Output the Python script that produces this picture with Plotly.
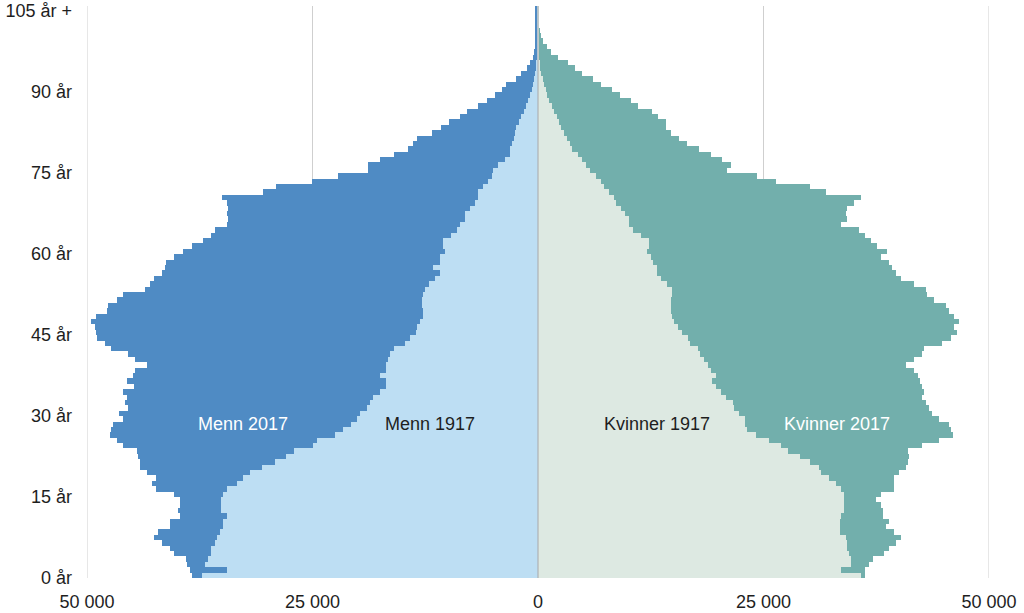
import plotly.graph_objects as go

ages = list(range(106))

men_2017 = [
    38400, 38600, 38900, 39000, 40400, 40800, 41700, 42600, 42100, 40800,
    40800, 39700, 39900, 39700, 39700, 40300, 42300, 42800, 42300, 43400,
    44100, 44100, 44300, 44500, 46000, 46700, 47500, 47300, 47100, 46000,
    46400, 45400, 45800, 45600, 46000, 44800, 45600, 44900, 44700, 43400,
    44700, 45400, 47300, 48000, 48900, 49000, 49100, 49600, 49000, 47800,
    47700, 46700, 46000, 43600, 43000, 42600, 41700, 41300, 41200, 40400,
    39400, 38400, 37100, 36300, 35800, 34500, 34400, 34500, 34400, 34500,
    35000, 30500, 29000, 25100, 22200, 18900, 18800, 17500, 16000, 14400,
    13900, 13400, 11800, 10700, 9900, 8700, 7900, 6600, 5600, 4800,
    4000, 3500, 2400, 1900, 1250, 900, 600, 400, 340, 330,
    320, 320, 310, 310, 300, 300,
]

men_1917 = [
    37300, 34500, 36900, 36600, 36200, 36200, 35800, 35600, 35300, 34900,
    34900, 34500, 35200, 35200, 35100, 34900, 34500, 33400, 32700, 31900,
    30600, 29200, 27900, 27000, 24900, 24500, 22500, 21600, 20700, 20100,
    19700, 19000, 18600, 18300, 17500, 16900, 16900, 17500, 16800, 16800,
    16600, 16400, 16000, 14800, 14200, 13500, 13400, 13100, 12700, 12700,
    12900, 12900, 12700, 12500, 12100, 11400, 10900, 11600, 10900, 10900,
    10300, 10500, 10500, 9600, 9000, 8700, 8100, 8100, 7500, 7000,
    6600, 6600, 6100, 5500, 5100, 5000, 4400, 3700, 3100, 3100,
    2900, 2700, 2500, 2400, 2100, 1900, 1600, 1300, 1100, 900,
    700, 550, 400, 300, 200, 150, 100, 70, 50, 30,
    20, 10, 5, 3, 2, 1,
]

women_2017 = [
    36300, 36300, 36700, 37100, 38400, 38900, 39700, 40200, 39500, 38600,
    38900, 38200, 38200, 38000, 37500, 38000, 39500, 39500, 39500, 40000,
    40800, 41000, 41100, 41000, 42600, 44500, 46000, 45800, 45600, 44500,
    43700, 43400, 43000, 42600, 42800, 42600, 42400, 42100, 41700, 40800,
    41700, 42600, 42800, 44800, 45800, 46500, 46100, 46700, 46100, 45600,
    45200, 43900, 43100, 43000, 41700, 40200, 39700, 39300, 38900, 38000,
    38700, 37600, 36900, 36300, 35600, 33600, 34300, 34100, 34300, 35000,
    35800, 31900, 30100, 26400, 24300, 21000, 21400, 20400, 19200, 17900,
    16500, 15600, 14700, 14200, 14200, 13300, 12600, 11100, 10300, 9100,
    8200, 7000, 6100, 4900, 4100, 3300, 2200, 1400, 960, 550,
    300, 120, 70, 40, 20, 15,
]

women_1917 = [
    35800, 33600, 34700, 34700, 34500, 34300, 34300, 34100, 33500, 33500,
    33500, 33600, 33900, 33900, 33900, 33900, 33600, 33000, 32300, 31400,
    31200, 30200, 29100, 27700, 26900, 25600, 24200, 23200, 23000, 22900,
    22300, 21700, 21600, 20800, 20300, 19700, 19300, 19700, 19200, 18800,
    18400, 18000, 17700, 16900, 16600, 16000, 15500, 15100, 14800, 14700,
    14700, 14700, 14900, 14900, 14300, 13600, 13200, 13200, 12700, 12500,
    12100, 12300, 12300, 11400, 10500, 10100, 10100, 9700, 9200, 8600,
    8400, 7900, 7300, 7000, 6400, 5800, 5300, 4900, 4400, 3800,
    3500, 3200, 2900, 2600, 2300, 2100, 1800, 1500, 1200, 1000,
    850, 650, 500, 350, 250, 170, 110, 70, 40, 25,
    15, 8, 5, 3, 2, 1,
]

y_tick_ages = [0, 15, 30, 45, 60, 75, 90, 105]
y_tick_text = ["0 år", "15 år", "30 år", "45 år", "60 år", "75 år", "90 år", "105 år +"]
x_tick_vals = [-50000, -25000, 0, 25000, 50000]
x_tick_text = ["50 000", "25 000", "0", "25 000", "50 000"]

series_labels = ["Menn 2017", "Menn 1917", "Kvinner 1917", "Kvinner 2017"]

C_M17 = "#4f8bc4"
C_M1917 = "#bddef3"
C_W17 = "#72afac"
C_W1917 = "#dde9e2"
GRID = "#cfcfcf"

fig = go.Figure()

def add_bar(values, color, name, sign):
    fig.add_trace(go.Bar(
        y=ages,
        x=[sign * v for v in values],
        orientation="h",
        marker=dict(color=color, line=dict(width=0)),
        width=1.0,
        name=name,
        hoverinfo="skip",
        showlegend=False,
    ))

add_bar(men_2017, C_M17, series_labels[0], -1)
add_bar(men_1917, C_M1917, series_labels[1], -1)
add_bar(women_2017, C_W17, series_labels[3], 1)
add_bar(women_1917, C_W1917, series_labels[2], 1)

FONT = "Liberation Sans, Arial, Helvetica, sans-serif"

fig.update_layout(
    width=1024,
    height=613,
    margin=dict(l=87, r=35, t=6, b=35, autoexpand=False),
    barmode="overlay",
    bargap=0,
    paper_bgcolor="white",
    plot_bgcolor="white",
    font=dict(family=FONT, size=18, color="#1e1e1e"),
    xaxis=dict(
        range=[-50000, 50000],
        tickvals=x_tick_vals,
        ticktext=x_tick_text,
        showgrid=True,
        gridcolor=GRID,
        gridwidth=1,
        zeroline=False,
        showline=False,
        ticks="",
        automargin=False,
        ticklabelstandoff=11,
        tickfont=dict(family=FONT, size=18, color="#1e1e1e"),
        fixedrange=True,
    ),
    yaxis=dict(
        range=[-0.5, 105.5],
        tickvals=[a - 0.35 for a in y_tick_ages],
        ticktext=y_tick_text,
        showgrid=False,
        zeroline=False,
        showline=False,
        ticks="",
        automargin=False,
        ticklabelstandoff=14,
        tickfont=dict(family=FONT, size=18, color="#1e1e1e"),
        fixedrange=True,
    ),
)

# gridlines at the two outer ticks (plotly omits them at the range edges)
for xv in (x_tick_vals[0], x_tick_vals[-1]):
    fig.add_shape(type="line", xref="x", yref="paper", x0=xv, x1=xv, y0=0, y1=1,
                  line=dict(color=GRID, width=1), layer="below")

fig.add_shape(type="line", xref="x", yref="paper", x0=0, x1=0, y0=0, y1=1,
              line=dict(color="#a8a8a8", width=1), layer="above")

label_y = 28.1
annots = [
    (-32700, series_labels[0], "white"),
    (-12000, series_labels[1], "#1e1e1e"),
    (13200, series_labels[2], "#1e1e1e"),
    (33100, series_labels[3], "white"),
]
for x, text, col in annots:
    fig.add_annotation(x=x, y=label_y, xref="x", yref="y", text=text, showarrow=False,
                       font=dict(family=FONT, size=18, color=col))

fig.write_html(
    "out.html",
    config={"displayModeBar": False},
    post_script="document.body.style.margin='0';document.body.style.overflow='hidden';",
)
